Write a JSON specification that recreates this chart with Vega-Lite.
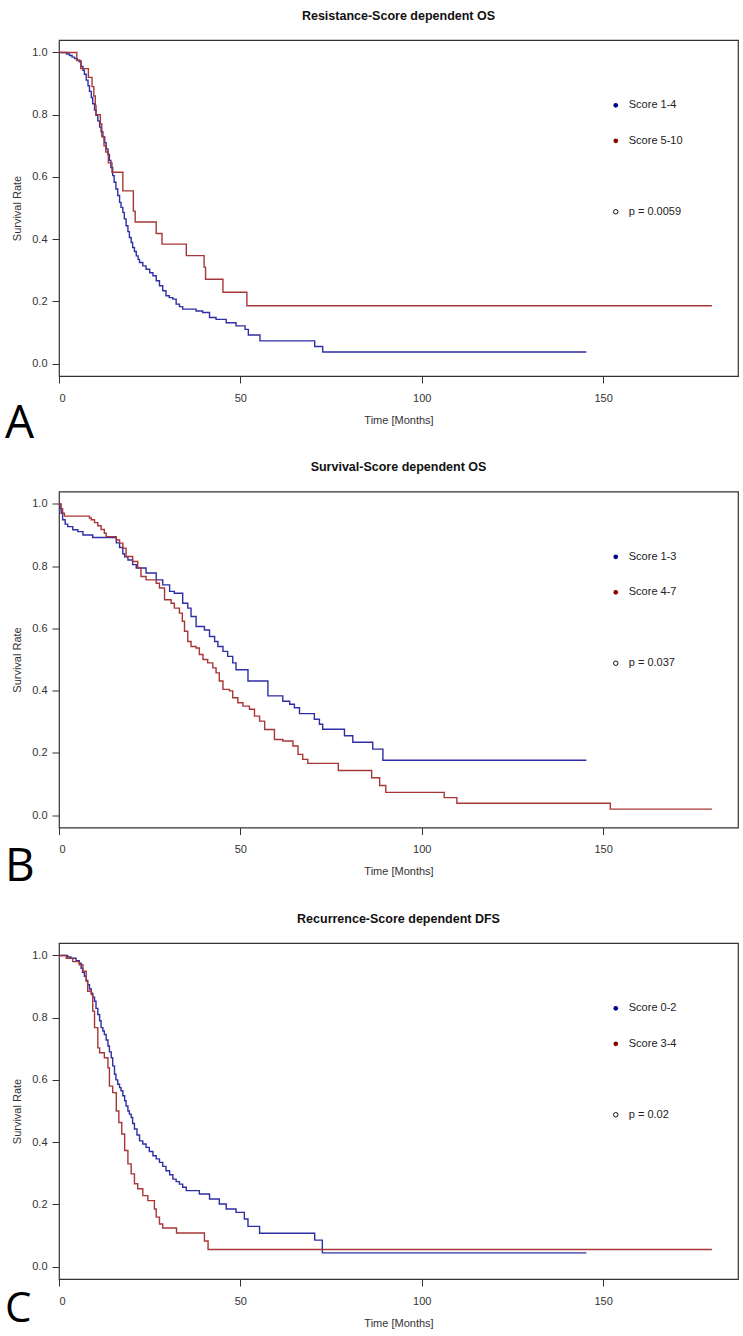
{
"$schema": "https://vega.github.io/schema/vega-lite/v6.json",
"background": "white",
"padding": {"left": 4, "top": 8, "right": 4, "bottom": 4},
"datasets": {
"A": [
{"t":0,"s":1,"g":"lo"},{"t":2.1,"s":0.995,"g":"lo"},{"t":2.9,"s":0.99,"g":"lo"},{"t":3.6,"s":0.985,"g":"lo"},{"t":4.3,"s":0.98,"g":"lo"},{"t":5.0,"s":0.975,"g":"lo"},{"t":5.6,"s":0.97,"g":"lo"},{"t":6.1,"s":0.955,"g":"lo"},{"t":6.6,"s":0.943,"g":"lo"},{"t":7.0,"s":0.93,"g":"lo"},{"t":7.5,"s":0.911,"g":"lo"},{"t":8.0,"s":0.893,"g":"lo"},{"t":8.4,"s":0.875,"g":"lo"},{"t":8.9,"s":0.855,"g":"lo"},{"t":9.3,"s":0.835,"g":"lo"},{"t":9.8,"s":0.815,"g":"lo"},{"t":10.2,"s":0.798,"g":"lo"},{"t":10.7,"s":0.78,"g":"lo"},{"t":11.2,"s":0.76,"g":"lo"},{"t":11.6,"s":0.745,"g":"lo"},{"t":12.1,"s":0.728,"g":"lo"},{"t":12.6,"s":0.71,"g":"lo"},{"t":13.0,"s":0.69,"g":"lo"},{"t":13.5,"s":0.672,"g":"lo"},{"t":13.9,"s":0.653,"g":"lo"},{"t":14.3,"s":0.63,"g":"lo"},{"t":14.8,"s":0.604,"g":"lo"},{"t":15.2,"s":0.583,"g":"lo"},{"t":15.7,"s":0.561,"g":"lo"},{"t":16.2,"s":0.54,"g":"lo"},{"t":16.7,"s":0.518,"g":"lo"},{"t":17.1,"s":0.502,"g":"lo"},{"t":17.6,"s":0.486,"g":"lo"},{"t":18.0,"s":0.465,"g":"lo"},{"t":18.5,"s":0.443,"g":"lo"},{"t":19.0,"s":0.424,"g":"lo"},{"t":19.4,"s":0.405,"g":"lo"},{"t":19.9,"s":0.389,"g":"lo"},{"t":20.3,"s":0.373,"g":"lo"},{"t":20.8,"s":0.36,"g":"lo"},{"t":21.3,"s":0.346,"g":"lo"},{"t":21.8,"s":0.335,"g":"lo"},{"t":22.2,"s":0.325,"g":"lo"},{"t":23.1,"s":0.314,"g":"lo"},{"t":24.0,"s":0.303,"g":"lo"},{"t":25.0,"s":0.292,"g":"lo"},{"t":25.9,"s":0.282,"g":"lo"},{"t":26.8,"s":0.266,"g":"lo"},{"t":27.7,"s":0.25,"g":"lo"},{"t":28.6,"s":0.234,"g":"lo"},{"t":29.5,"s":0.218,"g":"lo"},{"t":30.4,"s":0.212,"g":"lo"},{"t":31.4,"s":0.207,"g":"lo"},{"t":32.3,"s":0.191,"g":"lo"},{"t":33.2,"s":0.183,"g":"lo"},{"t":34.1,"s":0.175,"g":"lo"},{"t":37.8,"s":0.169,"g":"lo"},{"t":39.6,"s":0.164,"g":"lo"},{"t":41.5,"s":0.148,"g":"lo"},{"t":43.3,"s":0.142,"g":"lo"},{"t":46.1,"s":0.131,"g":"lo"},{"t":48.8,"s":0.121,"g":"lo"},{"t":51.3,"s":0.11,"g":"lo"},{"t":52.2,"s":0.092,"g":"lo"},{"t":55.4,"s":0.073,"g":"lo"},{"t":70.5,"s":0.055,"g":"lo"},{"t":72.7,"s":0.037,"g":"lo"},{"t":145.4,"s":0.037,"g":"lo"},
{"t":0,"s":1,"g":"hi"},{"t":4.9,"s":0.974,"g":"hi"},{"t":6.0,"s":0.948,"g":"hi"},{"t":8.1,"s":0.92,"g":"hi"},{"t":9.1,"s":0.89,"g":"hi"},{"t":9.6,"s":0.86,"g":"hi"},{"t":10.0,"s":0.83,"g":"hi"},{"t":10.2,"s":0.8,"g":"hi"},{"t":11.4,"s":0.77,"g":"hi"},{"t":11.8,"s":0.73,"g":"hi"},{"t":12.4,"s":0.7,"g":"hi"},{"t":12.9,"s":0.68,"g":"hi"},{"t":13.6,"s":0.645,"g":"hi"},{"t":14.6,"s":0.615,"g":"hi"},{"t":17.6,"s":0.555,"g":"hi"},{"t":20.5,"s":0.49,"g":"hi"},{"t":21.0,"s":0.455,"g":"hi"},{"t":26.8,"s":0.418,"g":"hi"},{"t":28.4,"s":0.384,"g":"hi"},{"t":35.1,"s":0.347,"g":"hi"},{"t":40.0,"s":0.31,"g":"hi"},{"t":40.4,"s":0.271,"g":"hi"},{"t":45.2,"s":0.229,"g":"hi"},{"t":51.8,"s":0.186,"g":"hi"},{"t":180,"s":0.186,"g":"hi"}
],
"B": [
{"t":0,"s":1,"g":"lo"},{"t":0.3,"s":0.985,"g":"lo"},{"t":0.6,"s":0.97,"g":"lo"},{"t":1.0,"s":0.949,"g":"lo"},{"t":1.7,"s":0.935,"g":"lo"},{"t":2.4,"s":0.927,"g":"lo"},{"t":3.8,"s":0.917,"g":"lo"},{"t":5.2,"s":0.911,"g":"lo"},{"t":6.6,"s":0.9,"g":"lo"},{"t":9.3,"s":0.892,"g":"lo"},{"t":15.8,"s":0.875,"g":"lo"},{"t":16.7,"s":0.86,"g":"lo"},{"t":17.6,"s":0.84,"g":"lo"},{"t":18.1,"s":0.83,"g":"lo"},{"t":19.0,"s":0.82,"g":"lo"},{"t":20.3,"s":0.805,"g":"lo"},{"t":21.3,"s":0.794,"g":"lo"},{"t":24.0,"s":0.778,"g":"lo"},{"t":26.8,"s":0.756,"g":"lo"},{"t":28.6,"s":0.74,"g":"lo"},{"t":30.5,"s":0.719,"g":"lo"},{"t":31.8,"s":0.713,"g":"lo"},{"t":34.1,"s":0.681,"g":"lo"},{"t":35.5,"s":0.665,"g":"lo"},{"t":36.4,"s":0.638,"g":"lo"},{"t":37.8,"s":0.606,"g":"lo"},{"t":40.1,"s":0.595,"g":"lo"},{"t":41.5,"s":0.574,"g":"lo"},{"t":42.9,"s":0.558,"g":"lo"},{"t":43.8,"s":0.542,"g":"lo"},{"t":45.2,"s":0.526,"g":"lo"},{"t":46.5,"s":0.51,"g":"lo"},{"t":47.9,"s":0.489,"g":"lo"},{"t":48.8,"s":0.467,"g":"lo"},{"t":52.1,"s":0.431,"g":"lo"},{"t":57.6,"s":0.383,"g":"lo"},{"t":61.7,"s":0.366,"g":"lo"},{"t":63.6,"s":0.356,"g":"lo"},{"t":64.9,"s":0.345,"g":"lo"},{"t":66.3,"s":0.326,"g":"lo"},{"t":70.4,"s":0.308,"g":"lo"},{"t":71.8,"s":0.292,"g":"lo"},{"t":72.7,"s":0.276,"g":"lo"},{"t":78.7,"s":0.255,"g":"lo"},{"t":81.0,"s":0.234,"g":"lo"},{"t":86.5,"s":0.212,"g":"lo"},{"t":89.3,"s":0.176,"g":"lo"},{"t":145.4,"s":0.176,"g":"lo"},
{"t":0,"s":1,"g":"hi"},{"t":0.6,"s":0.985,"g":"hi"},{"t":1.0,"s":0.97,"g":"hi"},{"t":1.5,"s":0.961,"g":"hi"},{"t":8.4,"s":0.955,"g":"hi"},{"t":8.9,"s":0.949,"g":"hi"},{"t":9.8,"s":0.94,"g":"hi"},{"t":10.7,"s":0.93,"g":"hi"},{"t":11.6,"s":0.918,"g":"hi"},{"t":12.5,"s":0.906,"g":"hi"},{"t":13.0,"s":0.895,"g":"hi"},{"t":15.8,"s":0.884,"g":"hi"},{"t":16.7,"s":0.874,"g":"hi"},{"t":17.6,"s":0.858,"g":"hi"},{"t":18.5,"s":0.831,"g":"hi"},{"t":20.3,"s":0.815,"g":"hi"},{"t":21.7,"s":0.794,"g":"hi"},{"t":22.6,"s":0.767,"g":"hi"},{"t":24.0,"s":0.756,"g":"hi"},{"t":26.8,"s":0.745,"g":"hi"},{"t":27.7,"s":0.73,"g":"hi"},{"t":29.1,"s":0.692,"g":"hi"},{"t":30.9,"s":0.681,"g":"hi"},{"t":31.8,"s":0.665,"g":"hi"},{"t":33.2,"s":0.649,"g":"hi"},{"t":34.0,"s":0.623,"g":"hi"},{"t":34.6,"s":0.591,"g":"hi"},{"t":35.5,"s":0.558,"g":"hi"},{"t":36.4,"s":0.542,"g":"hi"},{"t":37.8,"s":0.537,"g":"hi"},{"t":38.7,"s":0.516,"g":"hi"},{"t":39.7,"s":0.5,"g":"hi"},{"t":41.0,"s":0.489,"g":"hi"},{"t":42.4,"s":0.473,"g":"hi"},{"t":43.3,"s":0.457,"g":"hi"},{"t":44.2,"s":0.431,"g":"hi"},{"t":45.2,"s":0.404,"g":"hi"},{"t":47.0,"s":0.399,"g":"hi"},{"t":47.9,"s":0.377,"g":"hi"},{"t":49.3,"s":0.361,"g":"hi"},{"t":50.7,"s":0.35,"g":"hi"},{"t":52.5,"s":0.34,"g":"hi"},{"t":53.9,"s":0.318,"g":"hi"},{"t":55.3,"s":0.302,"g":"hi"},{"t":56.7,"s":0.275,"g":"hi"},{"t":59.4,"s":0.243,"g":"hi"},{"t":61.7,"s":0.238,"g":"hi"},{"t":64.5,"s":0.222,"g":"hi"},{"t":65.9,"s":0.195,"g":"hi"},{"t":67.2,"s":0.179,"g":"hi"},{"t":68.6,"s":0.166,"g":"hi"},{"t":77.0,"s":0.143,"g":"hi"},{"t":86.2,"s":0.12,"g":"hi"},{"t":88.4,"s":0.095,"g":"hi"},{"t":90.1,"s":0.073,"g":"hi"},{"t":106.2,"s":0.056,"g":"hi"},{"t":109.7,"s":0.038,"g":"hi"},{"t":152.0,"s":0.019,"g":"hi"},{"t":180,"s":0.019,"g":"hi"}
],
"C": [
{"t":0,"s":1,"g":"lo"},{"t":2.4,"s":0.995,"g":"lo"},{"t":3.3,"s":0.991,"g":"lo"},{"t":4.7,"s":0.983,"g":"lo"},{"t":5.6,"s":0.975,"g":"lo"},{"t":6.1,"s":0.959,"g":"lo"},{"t":6.5,"s":0.946,"g":"lo"},{"t":7.0,"s":0.933,"g":"lo"},{"t":7.5,"s":0.92,"g":"lo"},{"t":7.9,"s":0.906,"g":"lo"},{"t":8.4,"s":0.892,"g":"lo"},{"t":8.9,"s":0.879,"g":"lo"},{"t":9.3,"s":0.866,"g":"lo"},{"t":9.8,"s":0.853,"g":"lo"},{"t":10.2,"s":0.83,"g":"lo"},{"t":10.7,"s":0.81,"g":"lo"},{"t":11.2,"s":0.79,"g":"lo"},{"t":11.6,"s":0.768,"g":"lo"},{"t":12.1,"s":0.757,"g":"lo"},{"t":12.5,"s":0.746,"g":"lo"},{"t":13.0,"s":0.728,"g":"lo"},{"t":13.5,"s":0.709,"g":"lo"},{"t":13.9,"s":0.69,"g":"lo"},{"t":14.4,"s":0.671,"g":"lo"},{"t":14.8,"s":0.645,"g":"lo"},{"t":15.3,"s":0.618,"g":"lo"},{"t":15.7,"s":0.6,"g":"lo"},{"t":16.2,"s":0.586,"g":"lo"},{"t":16.7,"s":0.575,"g":"lo"},{"t":17.1,"s":0.565,"g":"lo"},{"t":17.6,"s":0.549,"g":"lo"},{"t":18.1,"s":0.533,"g":"lo"},{"t":18.5,"s":0.516,"g":"lo"},{"t":19.0,"s":0.5,"g":"lo"},{"t":19.4,"s":0.49,"g":"lo"},{"t":19.9,"s":0.479,"g":"lo"},{"t":20.3,"s":0.46,"g":"lo"},{"t":20.8,"s":0.442,"g":"lo"},{"t":21.5,"s":0.423,"g":"lo"},{"t":22.2,"s":0.404,"g":"lo"},{"t":23.1,"s":0.394,"g":"lo"},{"t":24.0,"s":0.383,"g":"lo"},{"t":24.9,"s":0.37,"g":"lo"},{"t":25.9,"s":0.356,"g":"lo"},{"t":26.8,"s":0.346,"g":"lo"},{"t":27.7,"s":0.335,"g":"lo"},{"t":28.6,"s":0.322,"g":"lo"},{"t":29.5,"s":0.308,"g":"lo"},{"t":30.5,"s":0.295,"g":"lo"},{"t":31.4,"s":0.281,"g":"lo"},{"t":32.3,"s":0.273,"g":"lo"},{"t":33.2,"s":0.265,"g":"lo"},{"t":34.1,"s":0.255,"g":"lo"},{"t":35.1,"s":0.244,"g":"lo"},{"t":38.7,"s":0.233,"g":"lo"},{"t":41.5,"s":0.217,"g":"lo"},{"t":44.2,"s":0.201,"g":"lo"},{"t":46.1,"s":0.185,"g":"lo"},{"t":48.8,"s":0.174,"g":"lo"},{"t":51.1,"s":0.153,"g":"lo"},{"t":52.1,"s":0.129,"g":"lo"},{"t":55.3,"s":0.107,"g":"lo"},{"t":70.5,"s":0.085,"g":"lo"},{"t":72.6,"s":0.044,"g":"lo"},{"t":145.4,"s":0.044,"g":"lo"},
{"t":0,"s":1,"g":"hi"},{"t":2.0,"s":0.991,"g":"hi"},{"t":3.8,"s":0.98,"g":"hi"},{"t":5.6,"s":0.97,"g":"hi"},{"t":6.6,"s":0.949,"g":"hi"},{"t":7.5,"s":0.917,"g":"hi"},{"t":7.9,"s":0.885,"g":"hi"},{"t":8.9,"s":0.874,"g":"hi"},{"t":9.3,"s":0.821,"g":"hi"},{"t":9.8,"s":0.768,"g":"hi"},{"t":10.7,"s":0.703,"g":"hi"},{"t":11.2,"s":0.687,"g":"hi"},{"t":12.5,"s":0.671,"g":"hi"},{"t":13.5,"s":0.639,"g":"hi"},{"t":13.9,"s":0.58,"g":"hi"},{"t":14.8,"s":0.559,"g":"hi"},{"t":15.8,"s":0.5,"g":"hi"},{"t":16.5,"s":0.463,"g":"hi"},{"t":17.3,"s":0.426,"g":"hi"},{"t":18.1,"s":0.373,"g":"hi"},{"t":19.0,"s":0.33,"g":"hi"},{"t":19.9,"s":0.298,"g":"hi"},{"t":20.8,"s":0.266,"g":"hi"},{"t":21.7,"s":0.25,"g":"hi"},{"t":23.1,"s":0.228,"g":"hi"},{"t":24.5,"s":0.212,"g":"hi"},{"t":26.3,"s":0.185,"g":"hi"},{"t":26.8,"s":0.159,"g":"hi"},{"t":27.7,"s":0.137,"g":"hi"},{"t":28.6,"s":0.124,"g":"hi"},{"t":32.4,"s":0.108,"g":"hi"},{"t":40.1,"s":0.082,"g":"hi"},{"t":41.1,"s":0.055,"g":"hi"},{"t":180,"s":0.055,"g":"hi"}
],
"legA": [{"t":153.5,"s":0.83,"g":"lo","label":"Score 1-4"},{"t":153.5,"s":0.716,"g":"hi","label":"Score 5-10"},{"t":153.5,"s":0.488,"g":"p","label":"p = 0.0059"}],
"legB": [{"t":153.5,"s":0.83,"g":"lo","label":"Score 1-3"},{"t":153.5,"s":0.716,"g":"hi","label":"Score 4-7"},{"t":153.5,"s":0.488,"g":"p","label":"p = 0.037"}],
"legC": [{"t":153.5,"s":0.83,"g":"lo","label":"Score 0-2"},{"t":153.5,"s":0.716,"g":"hi","label":"Score 3-4"},{"t":153.5,"s":0.488,"g":"p","label":"p = 0.02"}],
"letA": [{"t":-14.9,"s":-0.24,"letter":"A"}],
"letB": [{"t":-14.9,"s":-0.2115,"letter":"B"}],
"letC": [{"t":-14.9,"s":-0.178,"letter":"C"}]
},
"spacing": 115.5,
"bounds": "flush",
"vconcat": [
{
"width": 679, "height": 336,
"title": "Resistance-Score dependent OS",
"layer": [
{"data": {"name": "A"}, "mark": {"type": "line", "interpolate": "step-after", "strokeWidth": 1.4, "clip": true},
 "encoding": {
  "x": {"field": "t", "type": "quantitative", "scale": {"domain": [0, 187.2], "nice": false, "zero": false}, "axis": {"values": [0, 50, 100, 150], "title": "Time [Months]"}},
  "y": {"field": "s", "type": "quantitative", "scale": {"domain": [-0.04, 1.04], "nice": false, "zero": false}, "axis": {"values": [0, 0.2, 0.4, 0.6, 0.8, 1], "format": ".1f", "title": "Survival Rate"}},
  "color": {"field": "g", "type": "nominal", "scale": {"domain": ["lo", "hi"], "range": ["#2e2ea6", "#a83636"]}, "legend": null}}},
{"data": {"name": "legA"}, "transform": [{"filter": "datum.g !== 'p'"}], "mark": {"type": "point", "filled": true, "size": 22, "opacity": 1},
 "encoding": {"x": {"field": "t", "type": "quantitative"}, "y": {"field": "s", "type": "quantitative"}, "fill": {"field": "g", "type": "nominal", "scale": {"domain": ["lo", "hi"], "range": ["#00008b", "#8b0000"]}, "legend": null}}},
{"data": {"name": "legA"}, "transform": [{"filter": "datum.g === 'p'"}], "mark": {"type": "point", "filled": false, "size": 20, "color": "#111", "strokeWidth": 1, "opacity": 1},
 "encoding": {"x": {"field": "t", "type": "quantitative"}, "y": {"field": "s", "type": "quantitative"}}},
{"data": {"name": "legA"}, "mark": {"type": "text", "align": "left", "baseline": "middle", "dx": 13, "font": "Liberation Sans", "fontSize": 11, "color": "#222"},
 "encoding": {"x": {"field": "t", "type": "quantitative"}, "y": {"field": "s", "type": "quantitative"}, "text": {"field": "label"}}},
{"data": {"name": "letA"}, "mark": {"type": "text", "align": "left", "baseline": "alphabetic", "font": "Open Sans", "fontSize": 46, "color": "#000", "clip": false},
 "encoding": {"x": {"field": "t", "type": "quantitative"}, "y": {"field": "s", "type": "quantitative"}, "text": {"field": "letter"}}}
]
},
{
"width": 679, "height": 336,
"title": "Survival-Score dependent OS",
"layer": [
{"data": {"name": "B"}, "mark": {"type": "line", "interpolate": "step-after", "strokeWidth": 1.4, "clip": true},
 "encoding": {
  "x": {"field": "t", "type": "quantitative", "scale": {"domain": [0, 187.2], "nice": false, "zero": false}, "axis": {"values": [0, 50, 100, 150], "title": "Time [Months]"}},
  "y": {"field": "s", "type": "quantitative", "scale": {"domain": [-0.04, 1.04], "nice": false, "zero": false}, "axis": {"values": [0, 0.2, 0.4, 0.6, 0.8, 1], "format": ".1f", "title": "Survival Rate"}},
  "color": {"field": "g", "type": "nominal", "scale": {"domain": ["lo", "hi"], "range": ["#2e2ea6", "#a83636"]}, "legend": null}}},
{"data": {"name": "legB"}, "transform": [{"filter": "datum.g !== 'p'"}], "mark": {"type": "point", "filled": true, "size": 22, "opacity": 1},
 "encoding": {"x": {"field": "t", "type": "quantitative"}, "y": {"field": "s", "type": "quantitative"}, "fill": {"field": "g", "type": "nominal", "scale": {"domain": ["lo", "hi"], "range": ["#00008b", "#8b0000"]}, "legend": null}}},
{"data": {"name": "legB"}, "transform": [{"filter": "datum.g === 'p'"}], "mark": {"type": "point", "filled": false, "size": 20, "color": "#111", "strokeWidth": 1, "opacity": 1},
 "encoding": {"x": {"field": "t", "type": "quantitative"}, "y": {"field": "s", "type": "quantitative"}}},
{"data": {"name": "legB"}, "mark": {"type": "text", "align": "left", "baseline": "middle", "dx": 13, "font": "Liberation Sans", "fontSize": 11, "color": "#222"},
 "encoding": {"x": {"field": "t", "type": "quantitative"}, "y": {"field": "s", "type": "quantitative"}, "text": {"field": "label"}}},
{"data": {"name": "letB"}, "mark": {"type": "text", "align": "left", "baseline": "alphabetic", "font": "Open Sans", "fontSize": 46, "color": "#000", "clip": false},
 "encoding": {"x": {"field": "t", "type": "quantitative"}, "y": {"field": "s", "type": "quantitative"}, "text": {"field": "letter"}}}
]
},
{
"width": 679, "height": 336,
"title": "Recurrence-Score dependent DFS",
"layer": [
{"data": {"name": "C"}, "mark": {"type": "line", "interpolate": "step-after", "strokeWidth": 1.4, "clip": true},
 "encoding": {
  "x": {"field": "t", "type": "quantitative", "scale": {"domain": [0, 187.2], "nice": false, "zero": false}, "axis": {"values": [0, 50, 100, 150], "title": "Time [Months]"}},
  "y": {"field": "s", "type": "quantitative", "scale": {"domain": [-0.04, 1.04], "nice": false, "zero": false}, "axis": {"values": [0, 0.2, 0.4, 0.6, 0.8, 1], "format": ".1f", "title": "Survival Rate"}},
  "color": {"field": "g", "type": "nominal", "scale": {"domain": ["lo", "hi"], "range": ["#2e2ea6", "#a83636"]}, "legend": null}}},
{"data": {"name": "legC"}, "transform": [{"filter": "datum.g !== 'p'"}], "mark": {"type": "point", "filled": true, "size": 22, "opacity": 1},
 "encoding": {"x": {"field": "t", "type": "quantitative"}, "y": {"field": "s", "type": "quantitative"}, "fill": {"field": "g", "type": "nominal", "scale": {"domain": ["lo", "hi"], "range": ["#00008b", "#8b0000"]}, "legend": null}}},
{"data": {"name": "legC"}, "transform": [{"filter": "datum.g === 'p'"}], "mark": {"type": "point", "filled": false, "size": 20, "color": "#111", "strokeWidth": 1, "opacity": 1},
 "encoding": {"x": {"field": "t", "type": "quantitative"}, "y": {"field": "s", "type": "quantitative"}}},
{"data": {"name": "legC"}, "mark": {"type": "text", "align": "left", "baseline": "middle", "dx": 13, "font": "Liberation Sans", "fontSize": 11, "color": "#222"},
 "encoding": {"x": {"field": "t", "type": "quantitative"}, "y": {"field": "s", "type": "quantitative"}, "text": {"field": "label"}}},
{"data": {"name": "letC"}, "mark": {"type": "text", "align": "left", "baseline": "alphabetic", "font": "Open Sans", "fontSize": 42, "color": "#000", "clip": false},
 "encoding": {"x": {"field": "t", "type": "quantitative"}, "y": {"field": "s", "type": "quantitative"}, "text": {"field": "letter"}}}
]
}
],
"config": {
 "view": {"stroke": "#333", "strokeWidth": 1.2},
 "axis": {"grid": false, "domain": false, "ticks": true, "tickColor": "#333", "tickSize": 7, "tickWidth": 1, "labelFont": "Liberation Sans", "labelFontSize": 11, "labelColor": "#333", "titleFont": "Liberation Sans", "titleFontSize": 11, "titleFontWeight": "normal", "titleColor": "#333"},
 "axisY": {"labelAngle": 0, "labelPadding": 5, "titlePadding": 9},
 "axisX": {"labelPadding": 9, "titlePadding": 11},
 "title": {"font": "Liberation Sans", "fontSize": 12.5, "fontWeight": "bold", "color": "#111", "offset": 18, "anchor": "middle"}
}
}
